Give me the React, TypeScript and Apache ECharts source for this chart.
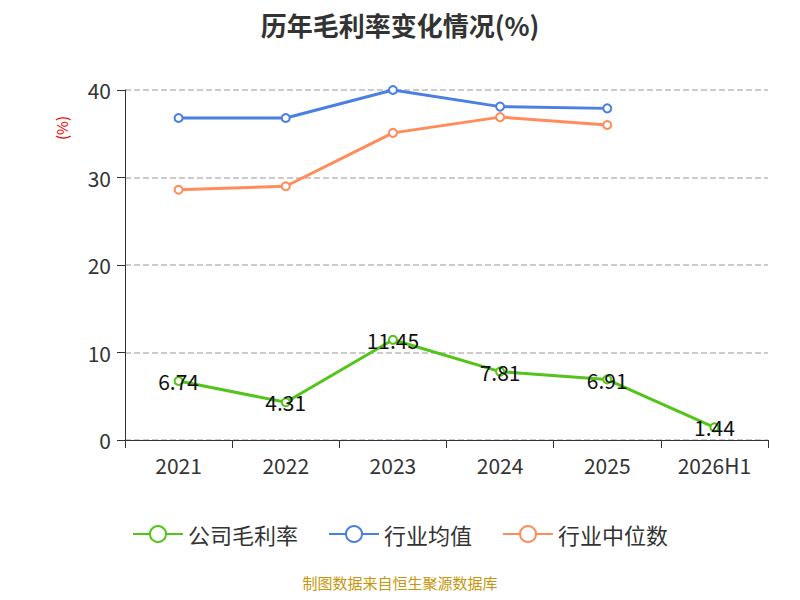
import { useEffect, useRef } from "react";
import * as echarts from "echarts";

const categories = ["2021", "2022", "2023", "2024", "2025", "2026H1"];
const companyMargin = [6.74, 4.31, 11.45, 7.81, 6.91, 1.44];
const industryAvg = [36.8, 36.8, 40.0, 38.1, 37.9, null];
const industryMedian = [28.6, 29.0, 35.1, 36.9, 36.0, null];

export default function App() {
  const ref = useRef<HTMLDivElement | null>(null);

  useEffect(() => {
    if (!ref.current) return;
    const chart = echarts.init(ref.current, null, { renderer: "svg" });
    const font = "'Noto Sans CJK SC', 'Noto Sans', sans-serif";
    chart.setOption({
      animation: false,
      textStyle: { fontFamily: font },
      title: {
        text: "历年毛利率变化情况(%)",
        left: "center",
        top: -2,
        textStyle: { fontSize: 26, fontWeight: "bold", color: "#333", fontFamily: font }
      },
      legend: {
        bottom: 42,
        itemWidth: 50,
        itemHeight: 20,
        itemGap: 30,
        textStyle: { fontSize: 22, color: "#333" },
        data: ["公司毛利率", "行业均值", "行业中位数"]
      },
      graphic: [
        { type: "text", left: 46, top: 108, rotation: Math.PI / 2, style: { text: "(%)", fill: "#e00", fontSize: 15, fontFamily: font } },
        { type: "text", left: "center", bottom: 2, style: { text: "制图数据来自恒生聚源数据库", fill: "#c8960c", fontSize: 15, fontFamily: font } }
      ],
      grid: { left: 117, right: 24, top: 82, bottom: 152 },
      xAxis: {
        type: "category",
        data: categories,
        axisLine: { lineStyle: { color: "#333" } },
        axisTick: { show: true, length: 8 },
        axisLabel: { fontSize: 21, color: "#333", margin: 14 }
      },
      yAxis: {
        type: "value",
        min: 0,
        max: 40,
        interval: 10,
        axisLine: { show: true, lineStyle: { color: "#333" } },
        axisTick: { show: true, length: 8 },
        axisLabel: { fontSize: 21, color: "#333", margin: 14 },
        splitLine: { lineStyle: { type: "dashed", color: "#bbb", width: 1.5 } }
      },
      series: [
        {
          name: "公司毛利率",
          type: "line",
          data: companyMargin,
          symbol: "emptyCircle",
          symbolSize: 8,
          itemStyle: { color: "#52c41a" },
          lineStyle: { width: 3, color: "#52c41a" },
          label: { show: true, position: "inside", fontSize: 21, color: "#111" },
          z: 3
        },
        {
          name: "行业均值",
          type: "line",
          data: industryAvg,
          symbol: "emptyCircle",
          symbolSize: 8,
          itemStyle: { color: "#4a7fe3" },
          lineStyle: { width: 3, color: "#4a7fe3" }
        },
        {
          name: "行业中位数",
          type: "line",
          data: industryMedian,
          symbol: "emptyCircle",
          symbolSize: 8,
          itemStyle: { color: "#ff8c5a" },
          lineStyle: { width: 3, color: "#ff8c5a" }
        }
      ]
    });
    return () => chart.dispose();
  }, []);

  return <div ref={ref} style={{ width: 784, height: 584 }} />;
}
